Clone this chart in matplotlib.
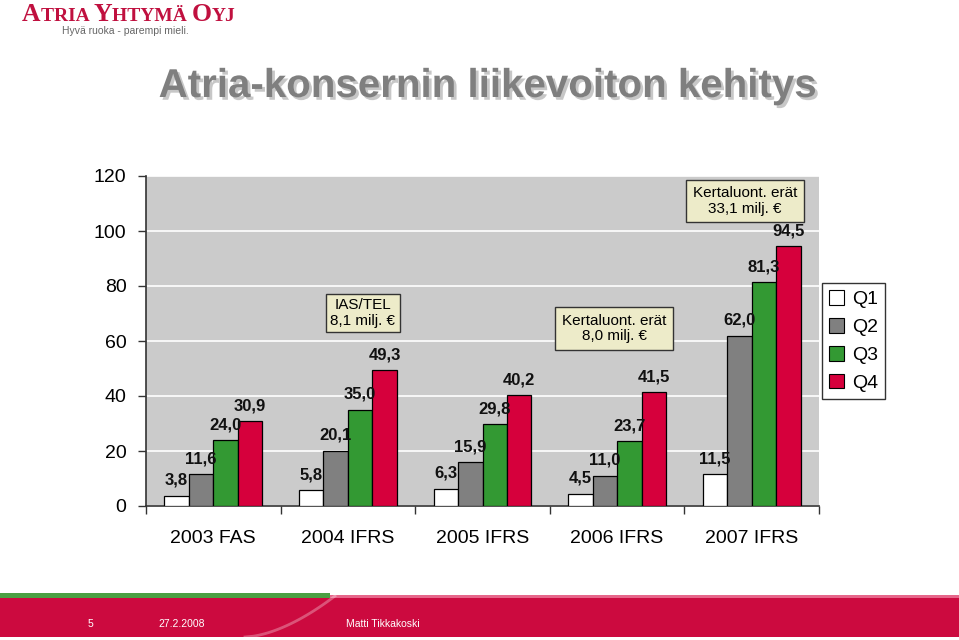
import numpy as np
import matplotlib
matplotlib.use("Agg")
import matplotlib.pyplot as plt
import matplotlib.patheffects as pe
from matplotlib.patches import Patch, Rectangle

plt.rcParams['font.family'] = ['Liberation Sans', 'DejaVu Sans']

# data
years = ['2003 FAS', '2004 IFRS', '2005 IFRS', '2006 IFRS', '2007 IFRS']
quarters = ['Q1', 'Q2', 'Q3', 'Q4']
q1 = [3.8, 5.8, 6.3, 4.5, 11.5]
q2 = [11.6, 20.1, 15.9, 11.0, 62.0]
q3 = [24.0, 35.0, 29.8, 23.7, 81.3]
q4 = [30.9, 49.3, 40.2, 41.5, 94.5]
yticks = [0, 20, 40, 60, 80, 100, 120]

colors = ['#ffffff', '#808080', '#339933', '#d6003c']
W, H = 959, 640

fig = plt.figure(figsize=(W / 100, H / 100), dpi=100)
fig.patch.set_facecolor('white')

ax = fig.add_axes([146 / W, (H - 506) / H, 673 / W, 330 / H])
ax.set_facecolor('#cbcbcb')

x = np.arange(len(years))
bw = 0.182
for i, (vals, c) in enumerate(zip([q1, q2, q3, q4], colors)):
    pos = x + (i - 1.5) * bw
    ax.bar(pos, vals, width=bw, color=c, edgecolor='black', linewidth=0.9, zorder=3)
    for px, v in zip(pos, vals):
        ax.annotate(f'{v:.1f}'.replace('.', ','), (px, v), xytext=(0, 11),
                    textcoords='offset points', ha='center', va='center',
                    fontsize=12, fontweight='bold', color='#111111', zorder=4)

ax.set_xlim(-0.5, 4.5)
ax.set_ylim(0, 120)
ax.set_yticks(yticks)
ax.set_yticklabels([str(t) for t in yticks], fontsize=14)
ax.yaxis.grid(True, color='white', linewidth=1.2, zorder=0)
ax.set_xticks(x)
ax.set_xticklabels(years, fontsize=14)
ax.set_xticks(np.arange(-0.5, 5.0, 1.0), minor=True)
ax.tick_params(axis='x', which='major', length=0, pad=17)
ax.tick_params(axis='x', which='minor', length=6, width=1, color='#333333')
ax.tick_params(axis='y', length=6, width=1, color='#333333', pad=8)
for s in ['top', 'right']:
    ax.spines[s].set_visible(False)
for s in ['left', 'bottom']:
    ax.spines[s].set_color('#333333')
    ax.spines[s].set_linewidth(1.2)

boxstyle = dict(boxstyle='square,pad=0.3', facecolor='#edebc9', edgecolor='#333333', linewidth=1)
ax.text(1.112, 70.2, 'IAS/TEL\n8,1 milj. €', ha='center', va='center', fontsize=11,
        linespacing=1.1, bbox=boxstyle, zorder=5)
ax.text(2.977, 64.4, 'Kertaluont. erät\n8,0 milj. €', ha='center', va='center', fontsize=11,
        linespacing=1.1, bbox=dict(boxstyle, boxstyle='square,pad=0.45'), zorder=5)
ax.text(3.95, 110.9, 'Kertaluont. erät\n33,1 milj. €', ha='center', va='center', fontsize=11,
        linespacing=1.1, bbox=dict(boxstyle, boxstyle='square,pad=0.45'), zorder=5)

handles = [Patch(facecolor=c, edgecolor='black', linewidth=0.8) for c in colors]
fig.legend(handles, quarters, loc='upper left', bbox_to_anchor=(822 / W, 1 - 283 / H),
           fontsize=14, frameon=True, fancybox=False, edgecolor='black',
           handlelength=0.8, handleheight=0.8, handletextpad=0.4,
           labelspacing=0.5, borderpad=0.35, borderaxespad=0)

# title
fig.text(487 / W, 1 - 86 / H, 'Atria-konsernin liikevoiton kehitys', ha='center', va='center',
         fontsize=29, fontweight='bold', color='#7f7f7f',
         path_effects=[pe.SimplePatchShadow(offset=(2, -2), shadow_rgbFace='#b0b0b0', alpha=0.7),
                       pe.Normal()])

# logo
renderer = fig.canvas.get_renderer()
xpos = 22 / W
for piece, size in [('A', 18.5), ('TRIA ', 14), ('Y', 18.5), ('HTYMÄ ', 14), ('O', 18.5), ('YJ', 14)]:
    t = fig.text(xpos, 1 - 21 / H, piece, ha='left', va='baseline', fontsize=size,
                 fontweight='bold', color='#c0103f', family=['Liberation Serif'])
    bb = t.get_window_extent(renderer)
    xpos = bb.x1 / W
fig.text(62 / W, 1 - 31 / H, 'Hyvä ruoka - parempi mieli.', ha='left', va='center',
         fontsize=7.5, color='#666666')

# footer band
fig.add_artist(Rectangle((0, 3 / H), 1, 39 / H, transform=fig.transFigure,
                         facecolor='#cc0a3f', edgecolor='none'))
fig.add_artist(Rectangle((0, 42 / H), 330 / W, 5 / H, transform=fig.transFigure,
                         facecolor='#4aa043', edgecolor='none'))
fig.add_artist(Rectangle((330 / W, 42 / H), 1 - 330 / W, 3 / H, transform=fig.transFigure,
                         facecolor='#e6668a', edgecolor='none'))
arc_t = np.linspace(0, 1, 50)
fig.add_artist(plt.Line2D((245 + 90 * arc_t ** 0.6) / W, (3 + 41 * arc_t) / H,
                          transform=fig.transFigure, color='white', alpha=0.3, linewidth=2))
ftxt = dict(fontsize=7.5, color='white', va='center', ha='left')
fig.text(88 / W, 1 - 624 / H, '5', **ftxt)
fig.text(158 / W, 1 - 624 / H, '27.2.2008', **ftxt)
fig.text(346 / W, 1 - 624 / H, 'Matti Tikkakoski', **ftxt)

fig.savefig('out.png', dpi=100)
